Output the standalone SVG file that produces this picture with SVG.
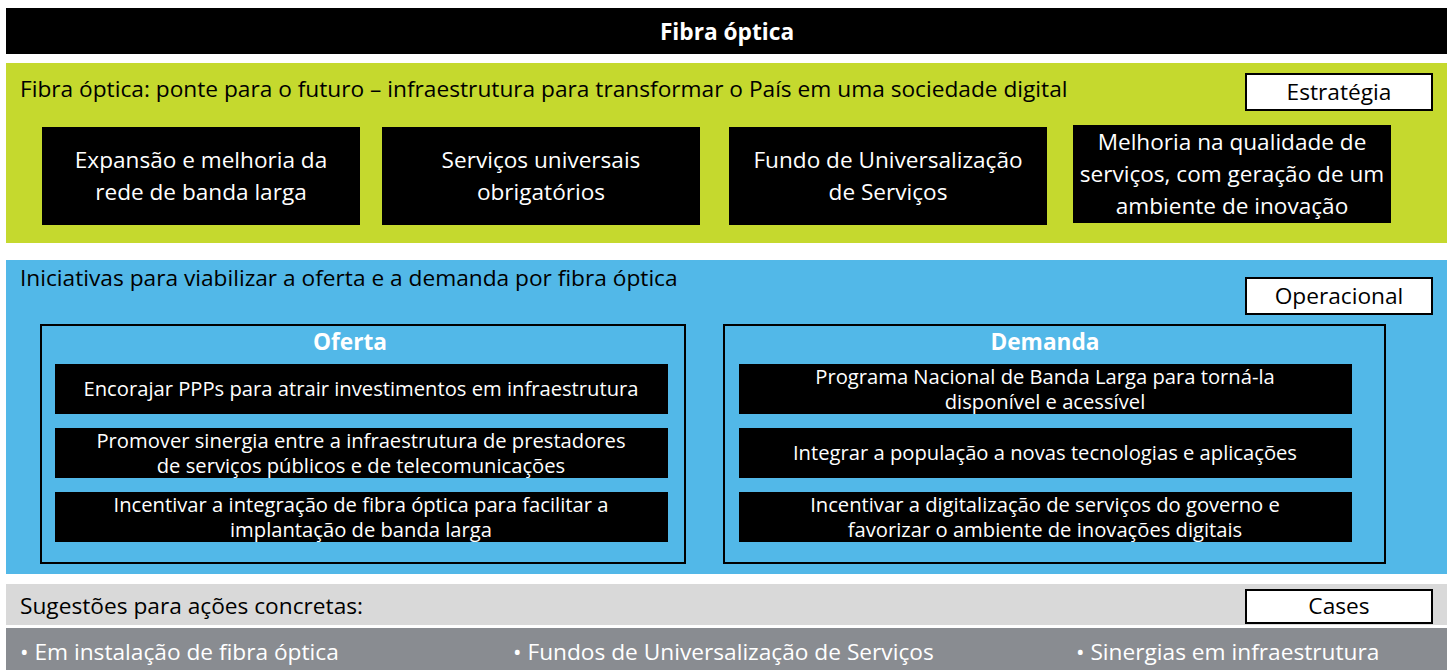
<svg xmlns="http://www.w3.org/2000/svg" width="1448" height="670" viewBox="0 0 1448 670">
<style>
text{font-family:"Open Sans","Noto Sans","Liberation Sans",sans-serif}
.bk{fill:#000}
.w{fill:#fff}
.k{fill:#000}
.lbl{fill:#fff;stroke:#000;stroke-width:2}
.frame{fill:none;stroke:#000;stroke-width:2}
.c{text-anchor:middle}
.t22{font-size:22.6px}
.t20{font-size:22.7px}
.t18{font-size:20.2px}
.b{font-weight:bold}
</style>
<rect x="0" y="0" width="1448" height="670" fill="#fff"/>
<g id="title">
<rect x="6" y="8" width="1441" height="46" class="bk"/>
<text x="727" y="40" class="w c t20 b">Fibra óptica</text>
</g>
<g id="estrategia">
<rect x="6" y="63" width="1441" height="180" fill="#c5d92e"/>
<text x="20" y="97" class="k t20">Fibra óptica: ponte para o futuro – infraestrutura para transformar o País em uma sociedade digital</text>
<g id="lbl-estrategia"><rect x="1246" y="74" width="186" height="36" class="lbl"/><text x="1339" y="100" class="k c t20">Estratégia</text></g>
<g id="s1"><rect x="42" y="127" width="318" height="98" class="bk"/><text x="201" class="w c t22"><tspan x="201" y="168">Expansão e melhoria da</tspan><tspan x="201" y="200">rede de banda larga</tspan></text></g>
<g id="s2"><rect x="382" y="127" width="318" height="98" class="bk"/><text x="541" class="w c t22"><tspan x="541" y="168">Serviços universais</tspan><tspan x="541" y="200">obrigatórios</tspan></text></g>
<g id="s3"><rect x="729" y="127" width="318" height="98" class="bk"/><text x="888" class="w c t22"><tspan x="888" y="168">Fundo de Universalização</tspan><tspan x="888" y="200">de Serviços</tspan></text></g>
<g id="s4"><rect x="1073" y="125" width="318" height="98" class="bk"/><text x="1232" class="w c t22"><tspan x="1232" y="150">Melhoria na qualidade de</tspan><tspan x="1232" y="182">serviços, com geração de um</tspan><tspan x="1232" y="214">ambiente de inovação</tspan></text></g>
</g>
<g id="operacional">
<rect x="6" y="260" width="1441" height="314" fill="#52b8e8"/>
<text x="20" y="286" class="k t20">Iniciativas para viabilizar a oferta e a demanda por fibra óptica</text>
<g id="lbl-operacional"><rect x="1246" y="278" width="186" height="36" class="lbl"/><text x="1339" y="304" class="k c t20">Operacional</text></g>
<g id="oferta">
<rect x="41" y="325" width="644" height="238" class="frame"/>
<text x="350" y="350" class="w c t20 b">Oferta</text>
<g id="o1"><rect x="55" y="364" width="613" height="50" class="bk"/><text x="361" y="396" class="w c t18">Encorajar PPPs para atrair investimentos em infraestrutura</text></g>
<g id="o2"><rect x="55" y="428" width="613" height="50" class="bk"/><text class="w c t18"><tspan x="361" y="447.5">Promover sinergia entre a infraestrutura de prestadores</tspan><tspan x="361" y="472.5">de serviços públicos e de telecomunicações</tspan></text></g>
<g id="o3"><rect x="55" y="492" width="613" height="50" class="bk"/><text class="w c t18"><tspan x="361" y="511.5">Incentivar a integração de fibra óptica para facilitar a</tspan><tspan x="361" y="536.5">implantação de banda larga</tspan></text></g>
</g>
<g id="demanda">
<rect x="724" y="325" width="661" height="238" class="frame"/>
<text x="1045" y="350" class="w c t20 b">Demanda</text>
<g id="d1"><rect x="739" y="364" width="613" height="50" class="bk"/><text class="w c t18"><tspan x="1045" y="383.5">Programa Nacional de Banda Larga para torná-la</tspan><tspan x="1045" y="408.5">disponível e acessível</tspan></text></g>
<g id="d2"><rect x="739" y="428" width="613" height="50" class="bk"/><text x="1045" y="460" class="w c t18">Integrar a população a novas tecnologias e aplicações</text></g>
<g id="d3"><rect x="739" y="492" width="613" height="50" class="bk"/><text class="w c t18"><tspan x="1045" y="511.5">Incentivar a digitalização de serviços do governo e</tspan><tspan x="1045" y="536.5">favorizar o ambiente de inovações digitais</tspan></text></g>
</g>
</g>
<g id="cases">
<rect x="6" y="584" width="1441" height="41" fill="#d9d9d9"/>
<text x="20" y="614" class="k t20">Sugestões para ações concretas:</text>
<g id="lbl-cases"><rect x="1246" y="590" width="186" height="33" class="lbl"/><text x="1339" y="614" class="k c t20">Cases</text></g>
<rect x="6" y="628" width="1441" height="42" fill="#898c91"/>
<text x="20" y="660" class="w t20">• Em instalação de fibra óptica</text>
<text x="513" y="660" class="w t20">• Fundos de Universalização de Serviços</text>
<text x="1076" y="660" class="w t20">• Sinergias em infraestrutura</text>
</g>
<g id="connectors"></g>
</svg>
